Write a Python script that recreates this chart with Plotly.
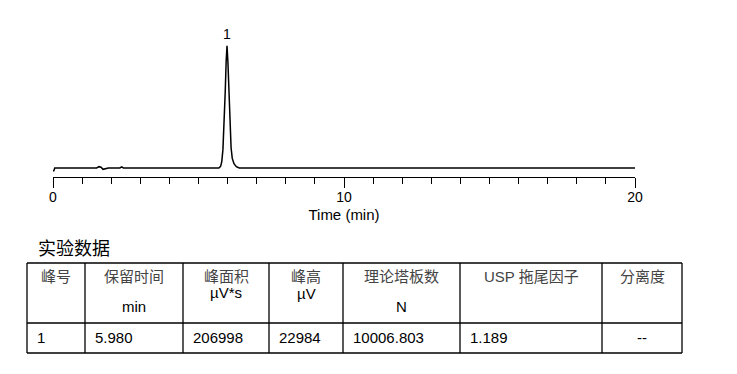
import plotly.graph_objects as go

# ---- chromatogram data ----
time_min = [0.00, 0.03, 0.06, 1.40, 1.50, 1.58, 1.65, 1.72, 1.80, 1.90, 2.30, 2.36, 2.42, 2.50,
            5.70, 5.76, 5.80, 5.84, 5.88, 5.92, 5.95, 5.98, 6.01, 6.04, 6.08, 6.12, 6.16,
            6.22, 6.30, 6.40, 20.00]
signal_uv = [-500, -500, 0, 0, 0, 250, 150, -250, -100, 0, 0, 200, 0, 0,
             0, 300, 1200, 3500, 8000, 14500, 20000, 22984, 20000, 14500, 8000, 3800, 1800,
             800, 250, 0, 0]

peak_label = ["1"]
peak_time = [5.98]
peak_height = [22984]

# ---- table data ----
table_title = "实验数据"
header_cn = ["峰号", "保留时间", "峰面积", "峰高", "理论塔板数", "USP 拖尾因子", "分离度"]
header_unit = ["", "min", "µV*s", "µV", "N", "", ""]
row_values = ["1", "5.980", "206998", "22984", "10006.803", "1.189", "--"]

# ---- layout geometry (page pixels; page body has an 8px margin) ----
OFF = 8
W, H = 737, 374
L, T = 53 - OFF, 30 - OFF
PW, PH = 582, 147
R, B = W - L - PW, H - T - PH
base_px, apex_px = 168, 45.7
upp = peak_height[0] / (base_px - apex_px)
y_lo = -(30 + PH - base_px) * upp
y_hi = peak_height[0] + (apex_px - 30) * upp


def px(x):
    return (x - 53) / PW


def py(y):
    return 1 - (y - 30) / PH


fig = go.Figure()
fig.add_trace(go.Scatter(x=time_min, y=signal_uv, mode="lines",
                         line=dict(color="black", width=1.5), hoverinfo="skip",
                         showlegend=False))

fig.add_annotation(x=peak_time[0], y=peak_height[0], text=peak_label[0], showarrow=False,
                   yanchor="bottom", yshift=2, font=dict(size=14, color="black",
                                                         family="Liberation Sans"))

col_x = [27, 85, 183, 269, 343, 460, 602, 682]
row_y = [263, 323, 353]
unit_y = [0, 306, 292, 293, 306, 0, 0]

shapes = []
for x in col_x:
    shapes.append(dict(type="line", xref="paper", yref="paper", x0=px(x), x1=px(x),
                       y0=py(row_y[0]), y1=py(row_y[-1]), line=dict(color="black", width=1.3)))
for y in row_y:
    shapes.append(dict(type="line", xref="paper", yref="paper", x0=px(col_x[0]), x1=px(col_x[-1]),
                       y0=py(y), y1=py(y), line=dict(color="black", width=1.3)))
fig.update_layout(shapes=shapes)

cjk = "Liberation Sans, Noto Sans CJK SC"
fig.add_annotation(xref="paper", yref="paper", x=px(36), y=py(247), text=table_title,
                   showarrow=False, xanchor="left", yanchor="middle",
                   font=dict(size=18, color="black", family="Noto Sans CJK SC"))

for i, txt in enumerate(header_cn):
    cx = (col_x[i] + col_x[i + 1]) / 2
    fig.add_annotation(xref="paper", yref="paper", x=px(cx), y=py(276), text=txt,
                       showarrow=False, xanchor="center", yanchor="middle",
                       font=dict(size=15, color="#444444", family=cjk))
    if header_unit[i]:
        fig.add_annotation(xref="paper", yref="paper", x=px(cx), y=py(unit_y[i]),
                           text=header_unit[i], showarrow=False, xanchor="center",
                           yanchor="middle", font=dict(size=15, color="black", family=cjk))

for i, txt in enumerate(row_values):
    if txt == "--":
        fig.add_annotation(xref="paper", yref="paper", x=px((col_x[i] + col_x[i + 1]) / 2),
                           y=py(337), text=txt, showarrow=False, xanchor="center",
                           yanchor="middle", font=dict(size=15, color="black", family=cjk))
    else:
        fig.add_annotation(xref="paper", yref="paper", x=px(col_x[i] + 8), y=py(337),
                           text=txt, showarrow=False, xanchor="left", yanchor="middle",
                           font=dict(size=15, color="black", family=cjk))

fig.update_layout(
    width=W, height=H, margin=dict(l=L, r=R, t=T, b=B),
    paper_bgcolor="white", plot_bgcolor="white",
    font=dict(family="Liberation Sans", color="black"),
    xaxis=dict(range=[0, 20], showline=True, linecolor="black", linewidth=1,
               ticks="outside", ticklen=10, tickwidth=1, tickcolor="black", dtick=10,
               tick0=0, showgrid=False, zeroline=False, ticklabelstandoff=-3,
               tickfont=dict(size=14, color="black"),
               minor=dict(dtick=1, ticks="outside", ticklen=6, tickcolor="black",
                          tickwidth=1, showgrid=False),
               title=dict(text="Time (min)", font=dict(size=15, color="black"), standoff=5)),
    yaxis=dict(range=[y_lo, y_hi], visible=False),
)

fig.write_html("out.html")
